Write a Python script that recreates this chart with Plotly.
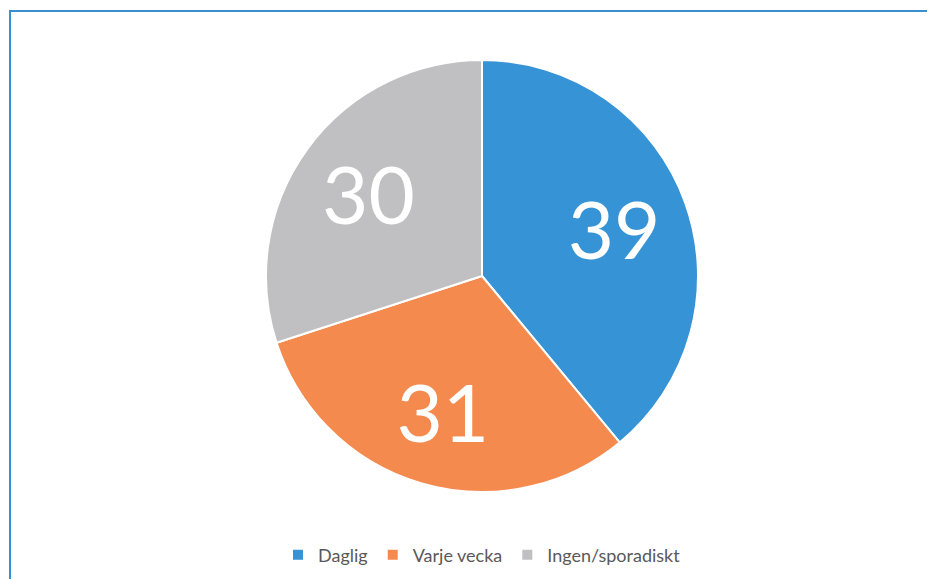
import plotly.graph_objects as go

labels = ["Daglig", "Varje vecka", "Ingen/sporadiskt"]
values = [39, 31, 30]
colors = ["#3593d6", "#f58a4f", "#c0c0c2"]

OFF = 8  # browser body margin
W, H = 935 - OFF, 579 - OFF
CX, CY, RAD = 482 - OFF, 276 - OFF, 216
L, R, T, B = CX - RAD, W - (CX + RAD), CY - RAD, H - (CY + RAD)
ph = H - T - B
pw = W - L - R

def px_x(x):
    return (x - OFF - L) / pw

def px_y(y):
    return (H - B - (y - OFF)) / ph

fig = go.Figure()
fig.add_trace(go.Pie(
    labels=labels,
    values=values,
    sort=False,
    direction="clockwise",
    rotation=0,
    marker=dict(colors=colors, line=dict(color="white", width=2)),
    textinfo="none",
    hoverinfo="label+value",
    showlegend=True,
))
# transparent overlay ring used only to place the value labels further out
fig.add_trace(go.Pie(
    labels=labels,
    values=values,
    sort=False,
    direction="clockwise",
    rotation=0,
    hole=0.3,
    marker=dict(colors=["rgba(0,0,0,0)"] * 3, line=dict(width=0)),
    textinfo="value",
    textposition="inside",
    insidetextorientation="horizontal",
    textfont=dict(family="Lato, sans-serif", size=80, color="white"),
    hoverinfo="skip",
    showlegend=False,
))

fig.update_layout(
    width=W, height=H,
    margin=dict(l=L, r=R, t=T, b=B, autoexpand=False),
    paper_bgcolor="white",
    plot_bgcolor="white",
    showlegend=True,
    legend=dict(
        orientation="h",
        x=0.5, xanchor="center",
        y=px_y(555), yanchor="middle",
        font=dict(family="Lato, sans-serif", size=18, color="#595959"),
        itemwidth=30,
    ),
    shapes=[dict(
        type="rect", xref="paper", yref="paper",
        x0=px_x(10), x1=px_x(945), y0=px_y(11), y1=px_y(600),
        line=dict(color="#3a8fd0", width=2),
        fillcolor="rgba(0,0,0,0)",
        layer="below",
    )],
)

fig.write_html("out.html")
